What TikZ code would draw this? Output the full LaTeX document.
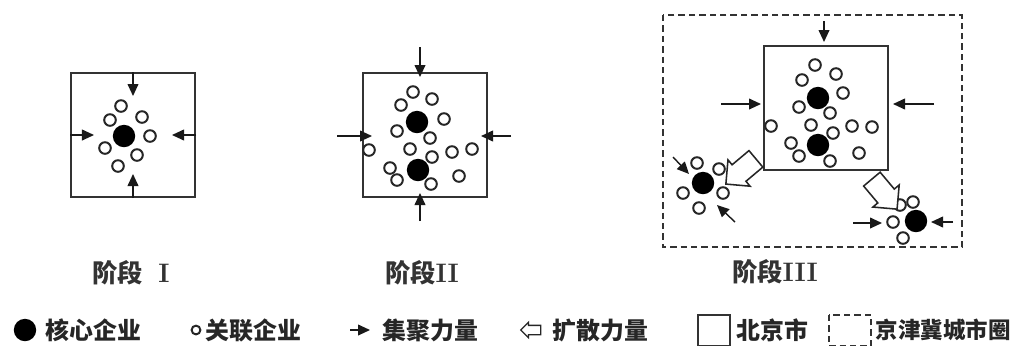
\documentclass[tikz,border=0pt]{standalone}
\usepackage{fontspec}
\newfontfamily\cjk{Noto Sans CJK SC}
\usetikzlibrary{arrows.meta,shapes.arrows,calc}

\begin{document}
\begin{tikzpicture}
[x=0.025cm, y=-0.025cm, line width=1.2pt,
core/.style={circle, fill=black, inner sep=0pt, minimum size=0.56cm},
firm/.style={circle, draw=black!85, fill=white, line width=1.4pt, inner sep=0pt, minimum size=0.29cm},
force/.style={draw=black!90, -{Triangle[length=3mm,width=2.7mm]}, line width=1pt},
city/.style={draw=black!80, line width=1.4pt, inner sep=0pt, minimum size=3.1cm},
region/.style={draw=black!80, line width=2pt, dash pattern=on 0.16cm off 0.1cm},
diffuse/.style={single arrow, draw=black!85, fill=white, line width=1.1pt, inner xsep=0pt, inner ysep=0.25cm, single arrow head extend=0.16cm, minimum height=0.98cm},
stagetext/.style={font=\cjk\bfseries\fontsize{18pt}{21pt}\selectfont, text=black!80, inner sep=0pt},
legendtext/.style={font=\cjk\bfseries\fontsize{17pt}{20pt}\selectfont, text=black!85, inner sep=0pt, anchor=west}]
\useasboundingbox (0,0) rectangle (1016,345);

% stage I
\node[city] (b1) at (133,135) {};
\node[core] (c1) at (124,136) {};
\foreach \x/\y [count=\i] in {121/106, 110/120, 142/117, 150/136, 105/148, 137/155, 118/166}
  \node[firm] (f1\i) at (\x,\y) {};
\draw[force] (b1.north) -- +(0,24);
\draw[force] (b1.south) -- +(0,-24);
\draw[force] (b1.west) -- +(24,0);
\draw[force] (b1.east) -- +(-24,0);
\node[stagetext] (s1) at (131,273) {阶段\hspace{0.6em}{\normalfont\bfseries\fontsize{19pt}{21pt}\selectfont I}};

% stage II
\node[city] (b2) at (425,135) {};
\node[core] (c2a) at (417,122) {};
\node[core] (c2b) at (418,170) {};
\foreach \x/\y [count=\i] in {413/92, 401/105, 432/99, 444/119, 397/131, 430/138, 369/150, 410/149,
  432/157, 452/152, 472/149, 390/168, 397/180, 431/184, 459/176}
  \node[firm] (f2\i) at (\x,\y) {};
\draw[force] ($(b2.north)+(-5,-25)$) -- ($(b2.north)+(-5,5)$);
\draw[force] ($(b2.south)+(-5,23)$) -- ($(b2.south)+(-5,-5)$);
\draw[force] ($(b2.west)+(-25,1)$) -- ($(b2.west)+(10,1)$);
\draw[force] ($(b2.east)+(23,1)$) -- ($(b2.east)+(-7,1)$);
\node[stagetext] (s2) at (422,273) {阶段{\normalfont\bfseries\fontsize{19pt}{21pt}\selectfont II}};

% stage III
\draw[region] (663,15) rectangle (962,247);
\node[city] (b3) at (826,108) {};
\node[core] (c3a) at (818,98) {};
\node[core] (c3b) at (818,145) {};
\foreach \x/\y [count=\i] in {815/65, 836/74, 802/80, 843/93, 799/107, 830/113, 771/126, 811/125,
  852/126, 872/127, 833/133, 791/143, 799/156, 830/161, 859/153}
  \node[firm] (f3\i) at (\x,\y) {};
\draw[force] ($(b3.north)+(-2,-24)$) -- ($(b3.north)+(-2,-3)$);
\draw[force] ($(b3.west)+(-42,-4)$) -- ($(b3.west)+(-2,-4)$);
\draw[force] ($(b3.east)+(45,-4)$) -- ($(b3.east)+(4,-4)$);

% spin-off clusters
\node[core] (c3l) at (703,183) {};
\foreach \x/\y [count=\i] in {697/163, 719/169, 683/193, 723/193, 699/208}
  \node[firm] (fl\i) at (\x,\y) {};
\draw[force] (673,157) -- (689,174);
\draw[force] (735,222) -- (717,205);
\node[core] (c3r) at (916,221) {};
\foreach \x/\y [count=\i] in {900/205, 913/202, 893/222, 903/238}
  \node[firm] (fr\i) at (\x,\y) {};
\draw[force] (853,223) -- (882,223);
\draw[force] (953,222) -- (931,222);
\node[diffuse, rotate=220] (d1) at (745,168) {};
\node[diffuse, rotate=-50] (d2) at (881,190) {};
\node[stagetext] (s3) at (775,272) {阶段{\normalfont\bfseries\fontsize{19pt}{21pt}\selectfont III}};

% legend
\node[core] (k1) at (25,330) {};
\node[legendtext] (k1t) at (45,330) {核心企业};
\node[firm, minimum size=0.22cm] (k2) at (196,330) {};
\node[legendtext] (k2t) at (205,330) {关联企业};
\draw[force] (350,330) -- (370,330);
\node[legendtext] (k3t) at (382,330) {集聚力量};
\node[diffuse, rotate=180, minimum height=0.5cm, inner ysep=0.1cm, single arrow head extend=0.08cm, line width=0.9pt] (k4) at (533,330) {};
\node[legendtext] (k4t) at (552,330) {扩散力量};
\draw[draw=black!80, line width=1.4pt] (698,315) rectangle (730,346);
\node[legendtext] (k5t) at (736,330) {北京市};
\draw[region] (829,315) rectangle (871,346);
\node[legendtext, font=\cjk\bfseries\fontsize{16pt}{19pt}\selectfont] (k6t) at (875,330) {京津冀城市圈};
\end{tikzpicture}
\end{document}
